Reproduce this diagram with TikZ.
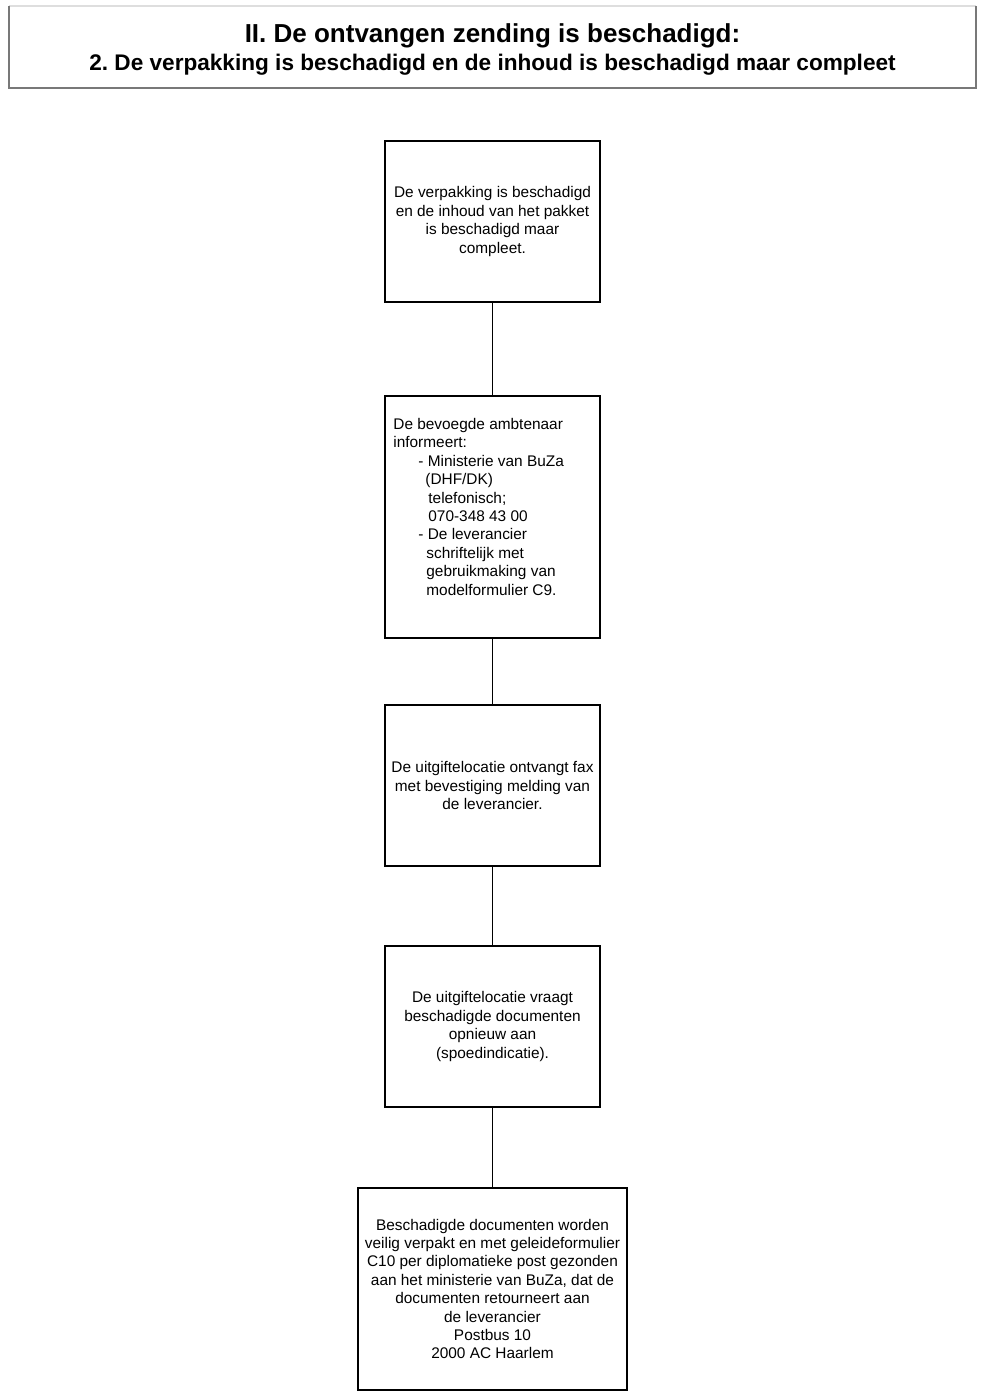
\documentclass[tikz,border=0pt]{standalone}
\usepackage{fontspec}
\setmainfont{Liberation Sans}
\usetikzlibrary{positioning}
\definecolor{frameGray}{RGB}{120,120,120}
\definecolor{frameLight}{RGB}{222,222,222}
\frenchspacing
\begin{document}
\begin{tikzpicture}[x=0.5pt, y=-0.5pt,
  stepbox/.style={draw=black, line width=0.65pt, minimum width=107.5pt, minimum height=80.5pt,
    align=center, inner sep=0pt, outer sep=0pt, font=\fontsize{7.7}{9.2}\selectfont},
  link/.style={draw=black, line width=0.8pt}]
\useasboundingbox (0,0) rectangle (983,1400);
% title frame
\draw[frameLight, line width=0.6pt] (9,6) -- (976,6);
\draw[frameGray, line width=0.6pt] (9,6) -- (9,88) -- (976,88) -- (976,6);
\node[font=\bfseries\fontsize{13}{15}\selectfont] (title) at (492.5,36) {II. De ontvangen zending is beschadigd:};
\node[font=\bfseries\fontsize{11.3}{13}\selectfont] (subtitle) at (492.5,65) {2. De verpakking is beschadigd en de inhoud is beschadigd maar compleet};

% flow of steps
\node[stepbox] (melding) at (492.5,221.5) {De verpakking is beschadigd\\en de inhoud van het pakket\\is beschadigd maar\\compleet.};
\node[stepbox, minimum height=121pt, below=47pt of melding] (ambtenaar) {};
\node[anchor=north west, inner sep=0pt, align=left, font=\fontsize{7.7}{9.2}\selectfont] (ambtekst)
  at ([xshift=4pt, yshift=-11pt]ambtenaar.north west)
  {De bevoegde ambtenaar\\
   informeert:\\
   \hspace*{12.5pt}- Ministerie van BuZa\\
   \hspace*{16pt}(DHF/DK)\\
   \hspace*{17.5pt}telefonisch;\\
   \hspace*{17.5pt}070-348 43 00\\
   \hspace*{12.5pt}- De leverancier\\
   \hspace*{16.5pt}schriftelijk met\\
   \hspace*{16.5pt}gebruikmaking van\\
   \hspace*{16.5pt}modelformulier C9.};
\node[stepbox, below=33.5pt of ambtenaar] (fax) {De uitgiftelocatie ontvangt fax\\met bevestiging melding van\\de leverancier.};
\node[stepbox, below=40pt of fax] (aanvraag) {De uitgiftelocatie vraagt\\beschadigde documenten\\opnieuw aan\\(spoedindicatie).};
\node[stepbox, minimum width=134.5pt, minimum height=101pt, below=40.5pt of aanvraag] (retour)
  {Beschadigde documenten worden\\veilig verpakt en met geleideformulier\\C10 per diplomatieke post gezonden\\aan het ministerie van BuZa, dat de\\documenten retourneert aan\\de leverancier\\Postbus 10\\2000 AC Haarlem};

\foreach \a/\b in {melding/ambtenaar, ambtenaar/fax, fax/aanvraag, aanvraag/retour}
{
    \draw[link] (\a) -- (\b);
}
\end{tikzpicture}
\end{document}
